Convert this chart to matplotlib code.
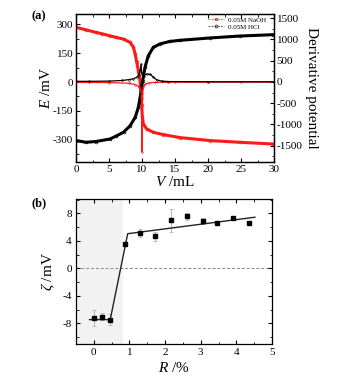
import matplotlib
matplotlib.use("Agg")
import matplotlib.pyplot as plt
from matplotlib.ticker import MultipleLocator
from matplotlib.lines import Line2D

plt.rcParams['font.family'] = ['Liberation Serif', 'DejaVu Serif']
plt.rcParams['mathtext.fontset'] = 'custom'
plt.rcParams['mathtext.it'] = 'Liberation Serif:italic'
plt.rcParams['mathtext.rm'] = 'Liberation Serif'

# ---- (a) potentiometric titration curves ----
V_naoh = [0, 1.5, 3.0, 4.0, 5.15, 6.06, 7.2, 8.2, 8.7, 8.96, 9.2, 9.45, 9.7, 9.85, 9.95,
          10.05, 10.2, 10.7, 11.7, 13.2, 15.8, 20.3, 24.8, 29.9]
E_naoh = [283, 270, 257, 249, 239, 231, 222, 205, 180, 145, 102, 58, 7, -60, -120,
          -180, -217, -243, -260, -272, -288, -303, -312, -321]

V_hcl = [0, 1.5, 3.0, 5.15, 6.06, 7.2, 8.2, 8.96, 9.45, 9.8, 10.1, 10.45, 10.95, 11.7,
         12.7, 14.2, 15.8, 20.3, 24.8, 29.9]
E_hcl = [-303, -312, -308, -295, -280, -260, -226, -183, -131, -62, 7, 76, 136, 179,
         197, 210, 216, 228, 238, 245]

# first derivative of the potential
Vd_naoh = [0, 2, 5, 8, 9, 9.5, 9.8, 9.93, 10.0, 10.07, 10.2, 10.5, 11, 12, 15, 20, 25, 30]
dE_naoh = [-10, -10, -15, -30, -60, -110, -180, -400, -1650, -350, -120, -50, -20, -10,
           -5, -5, -5, -5]

Vd_hcl = [0, 2, 5, 7, 8, 8.7, 9.2, 9.5, 9.7, 9.85, 9.95, 10.1, 10.3, 10.7, 11.2, 11.7,
          12.2, 13, 14, 20, 30]
dE_hcl = [15, 15, 20, 35, 55, 75, 110, 160, 250, 420, 220, 120, 150, 190, 180, 120,
          50, 20, 10, 5, 5]

legend_labels = ['0.05M NaOH', '0.05M HCl']

# ---- (b) zeta potential vs. R ----
R = [0, 0.22, 0.45, 0.87, 1.30, 1.73, 2.17, 2.61, 3.05, 3.47, 3.91, 4.34]
zeta = [-7.2, -7.0, -7.45, 3.6, 5.15, 4.65, 7.0, 7.6, 6.9, 6.6, 7.3, 6.6]
zeta_err = [1.2, 0.5, 0.8, 0.3, 0.6, 0.7, 1.7, 0.5, 0.4, 0.3, 0.2, 0.2]
fit_R = [-0.12, 0.46, 0.95, 4.52]
fit_zeta = [-7.45, -7.45, 5.05, 7.45]
shade_end = 0.83

RED = '#ff1a1a'
fig = plt.figure(figsize=(3.46, 3.88), dpi=100)

# panel (a)
ax = fig.add_axes([0.2197, 0.5825, 0.5723, 0.3814])
ax2 = ax.twinx()
ax.plot(V_naoh, E_naoh, '-', color=RED, lw=2.2, marker='o', ms=2.0, mfc='none', mew=0.5, zorder=3)
ax.plot(V_hcl, E_hcl, '-', color='black', lw=2.2, marker='o', ms=2.0, mfc='none', mew=0.5, zorder=3)
ax2.plot(Vd_naoh, dE_naoh, '-', color=RED, lw=0.9, marker='o', ms=1.2, mfc='none', mew=0.4)
ax2.plot(Vd_hcl, dE_hcl, '-', color='black', lw=0.9, marker='o', ms=1.2, mfc='none', mew=0.4)

ax.set_xlim(0, 30)
ax.set_ylim(-414, 352)
ax2.set_ylim(-1884, 1600)
ax.xaxis.set_major_locator(MultipleLocator(5))
ax.xaxis.set_minor_locator(MultipleLocator(2.5))
ax.yaxis.set_minor_locator(MultipleLocator(75))
ax2.yaxis.set_minor_locator(MultipleLocator(250))
ax.set_yticks([-300, -150, 0, 150, 300])
ax.set_yticklabels(['-300', '-150', '0', '150', '300'])
ax2.set_yticks([-1500, -1000, -500, 0, 500, 1000, 1500])
ax2.set_yticklabels(['-1500', '-1000', '-500', '0', '500', '1000', '1500'])
ax.tick_params(which='both', direction='in', top=True, right=False, labelsize=8, pad=2)
ax.tick_params(which='major', length=3)
ax.tick_params(which='minor', length=1.8)
ax2.tick_params(which='both', direction='in', labelsize=8, pad=2)
ax2.tick_params(which='major', length=3)
ax2.tick_params(which='minor', length=1.8)
ax.set_xlabel('$V$ /mL', fontsize=11, labelpad=1)
ax.set_ylabel('$E$ /mV', fontsize=11, labelpad=0)
ax2.set_ylabel('Derivative potential', fontsize=11, rotation=-90, labelpad=11)
for a in (ax, ax2):
    for s in a.spines.values():
        s.set_linewidth(0.9)

handles = [Line2D([], [], color=RED, lw=0.5, ls=(0, (3, 1.5)), marker='s', ms=2.0, mfc='none', mew=0.6),
           Line2D([], [], color='#333333', lw=0.5, ls=(0, (3, 1.5)), marker='o', ms=2.0, mfc='none', mew=0.6)]
ax2.legend(handles, legend_labels, loc='upper right', fontsize=5, frameon=False,
           handlelength=2.4, handletextpad=0.5, labelspacing=0.2,
           borderaxespad=0.2, bbox_to_anchor=(0.98, 1.01))
fig.text(0.092, 0.957, '(a)', fontsize=9, fontweight='bold', va='center')

# panel (b)
bx = fig.add_axes([0.2197, 0.1134, 0.5665, 0.3737])
bx.axvspan(-0.5, shade_end, color='#f2f2f2', lw=0, zorder=0)
bx.axhline(0, color='#888888', lw=0.7, ls=(0, (3, 2)), zorder=1)
bx.errorbar(R, zeta, yerr=zeta_err, fmt='none', ecolor='#b5b5b5', elinewidth=0.7,
            capsize=1.5, capthick=0.6, zorder=2)
bx.plot(fit_R, fit_zeta, '-', color='#222222', lw=1.0, zorder=3)
bx.plot(R, zeta, 's', color='black', ms=3.3, zorder=4)
bx.set_xlim(-0.5, 5)
bx.set_ylim(-11, 10.1)
bx.xaxis.set_major_locator(MultipleLocator(1))
bx.xaxis.set_minor_locator(MultipleLocator(0.5))
bx.set_yticks([-8, -4, 0, 4, 8])
bx.set_yticklabels(['-8', '-4', '0', '4', '8'])
bx.yaxis.set_minor_locator(MultipleLocator(2))
bx.tick_params(which='both', direction='in', top=True, right=True, labelsize=8, pad=3)
bx.tick_params(which='major', length=3)
bx.tick_params(which='minor', length=1.8)
bx.set_xlabel('$R$ /%', fontsize=11, labelpad=3)
bx.set_ylabel('$\\zeta$ /mV', fontsize=11, labelpad=4)
for s in bx.spines.values():
    s.set_linewidth(0.9)
fig.text(0.092, 0.475, '(b)', fontsize=9, fontweight='bold', va='center')

fig.savefig('out.png', dpi=100)
